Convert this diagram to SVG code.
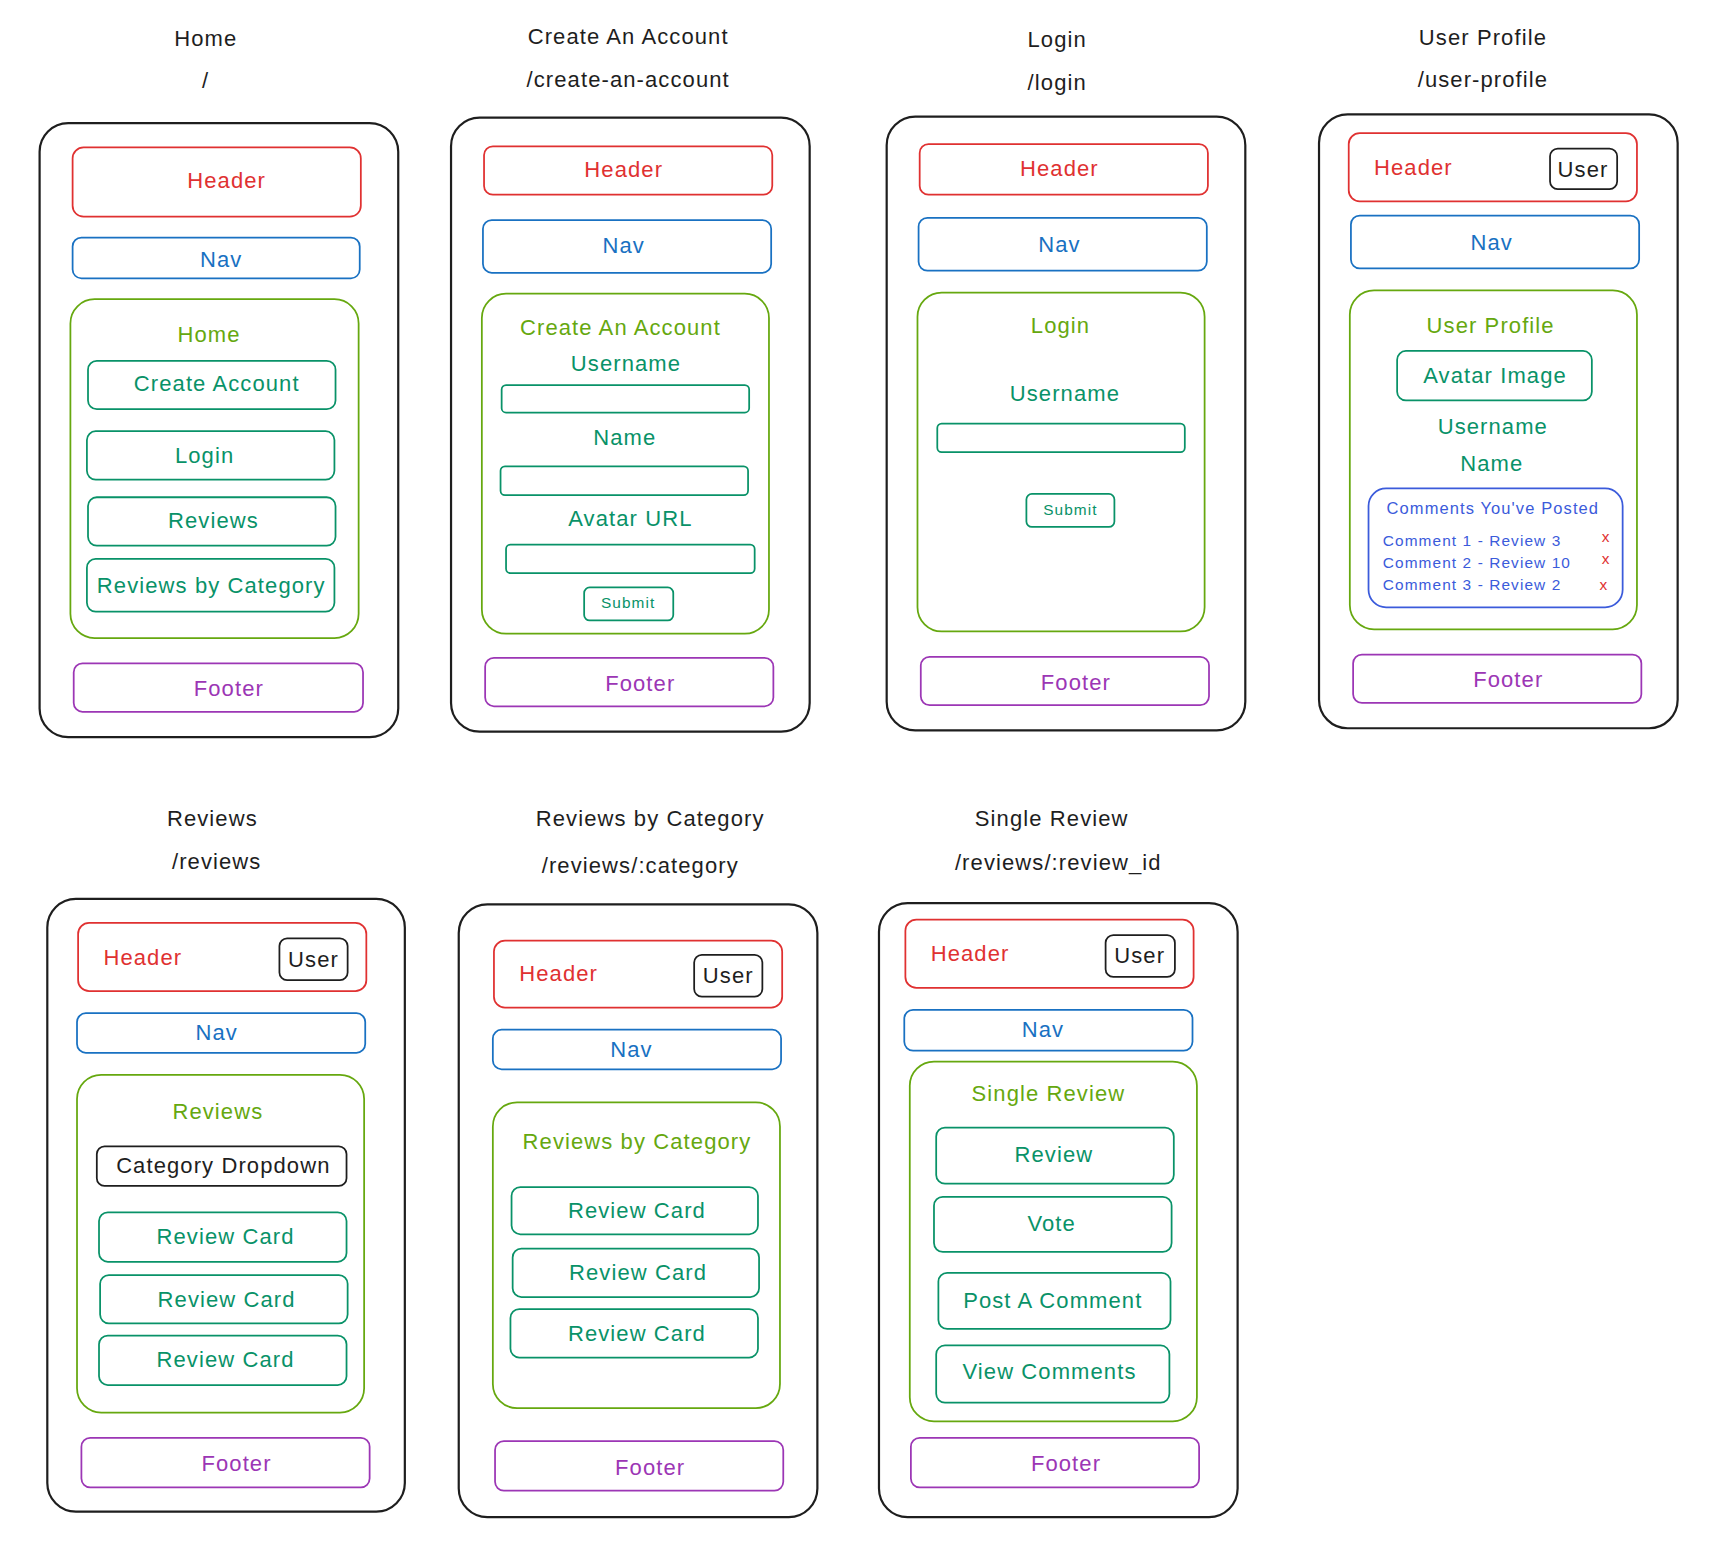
<svg xmlns="http://www.w3.org/2000/svg" width="1725" height="1546" viewBox="0 0 1725 1546">
<style>
text{font-family:"Liberation Sans",Arial,sans-serif;font-size:20px;text-anchor:middle;dominant-baseline:central;letter-spacing:1px}
rect{fill:none;stroke-width:1.6}
.frame{stroke:#1e1e1e;stroke-width:2}
.hd{stroke:#e03131}.hdt{fill:#e03131}
.nv{stroke:#1971c2}.nvt{fill:#1971c2}
.gr{stroke:#66a80f}.grt{fill:#66a80f}
.tl{stroke:#099268}.tlt{fill:#099268}
.pu{stroke:#9c36b5}.put{fill:#9c36b5}
.in{stroke:#3b5bdb}.int{fill:#3b5bdb}
.bk{stroke:#1e1e1e}.bkt{fill:#1e1e1e}
.st{text-anchor:start}
.sm{font-size:14px}
.xs{font-size:14px;fill:#e03131}
</style>
<rect width="1725" height="1546" fill="#ffffff" stroke="none"/>
<g transform="scale(1.1001)">

<g id="page-home">
<text class="bkt" x="187" y="35">Home</text>
<text class="bkt" x="187" y="73">/</text>
<rect class="frame" x="36" y="112" width="326" height="558" rx="26"/>
<g id="home-header"><rect class="hd" x="66" y="134" width="262" height="63" rx="10"/><text class="hdt" x="206" y="164">Header</text></g>
<g id="home-nav"><rect class="nv" x="66" y="216" width="261" height="37" rx="8"/><text class="nvt" x="201" y="236">Nav</text></g>
<g id="home-main"><rect class="gr" x="64" y="272" width="262" height="308" rx="22"/><text class="grt" x="190" y="304">Home</text></g>
<g id="home-create"><rect class="tl" x="80" y="328" width="225" height="44" rx="8"/><text class="tlt" x="197" y="349">Create Account</text></g>
<g id="home-login"><rect class="tl" x="79" y="392" width="225" height="44" rx="8"/><text class="tlt" x="186" y="414">Login</text></g>
<g id="home-reviews"><rect class="tl" x="80" y="452" width="225" height="44" rx="8"/><text class="tlt" x="194" y="473">Reviews</text></g>
<g id="home-bycat"><rect class="tl" x="79" y="508" width="225" height="48" rx="8"/><text class="tlt" x="192" y="532">Reviews by Category</text></g>
<g id="home-footer"><rect class="pu" x="67" y="603" width="263" height="44" rx="8"/><text class="put" x="208" y="626">Footer</text></g>
</g>

<g id="page-create">
<text class="bkt" x="571" y="33">Create An Account</text>
<text class="bkt" x="571" y="72">/create-an-account</text>
<rect class="frame" x="410" y="107" width="326" height="558" rx="26"/>
<g id="create-header"><rect class="hd" x="440" y="133" width="262" height="44" rx="8"/><text class="hdt" x="567" y="154">Header</text></g>
<g id="create-nav"><rect class="nv" x="439" y="200" width="262" height="48" rx="8"/><text class="nvt" x="567" y="223">Nav</text></g>
<g id="create-main"><rect class="gr" x="438" y="267" width="261" height="309" rx="22"/><text class="grt" x="564" y="298">Create An Account</text></g>
<g id="create-username"><text class="tlt" x="569" y="330">Username</text><rect class="tl" x="456" y="350" width="225" height="25" rx="4"/></g>
<g id="create-name"><text class="tlt" x="568" y="398">Name</text><rect class="tl" x="455" y="424" width="225" height="26" rx="4"/></g>
<g id="create-avatar"><text class="tlt" x="573" y="471">Avatar URL</text><rect class="tl" x="460" y="495" width="226" height="26" rx="4"/></g>
<g id="create-submit"><rect class="tl" x="531" y="534" width="81" height="30" rx="5"/><text class="tlt sm" x="571" y="548">Submit</text></g>
<g id="create-footer"><rect class="pu" x="441" y="598" width="262" height="44" rx="8"/><text class="put" x="582" y="621">Footer</text></g>
</g>

<g id="page-login">
<text class="bkt" x="961" y="36">Login</text>
<text class="bkt" x="961" y="75">/login</text>
<rect class="frame" x="806" y="106" width="326" height="558" rx="26"/>
<g id="login-header"><rect class="hd" x="836" y="131" width="262" height="46" rx="8"/><text class="hdt" x="963" y="153">Header</text></g>
<g id="login-nav"><rect class="nv" x="835" y="198" width="262" height="48" rx="8"/><text class="nvt" x="963" y="222">Nav</text></g>
<g id="login-main"><rect class="gr" x="834" y="266" width="261" height="308" rx="22"/><text class="grt" x="964" y="296">Login</text></g>
<g id="login-username"><text class="tlt" x="968" y="358">Username</text><rect class="tl" x="852" y="385" width="225" height="26" rx="4"/></g>
<g id="login-submit"><rect class="tl" x="933" y="449" width="80" height="30" rx="5"/><text class="tlt sm" x="973" y="463">Submit</text></g>
<g id="login-footer"><rect class="pu" x="837" y="597" width="262" height="44" rx="8"/><text class="put" x="978" y="620">Footer</text></g>
</g>

<g id="page-profile">
<text class="bkt" x="1348" y="34">User Profile</text>
<text class="bkt" x="1348" y="72">/user-profile</text>
<rect class="frame" x="1199" y="104" width="326" height="558" rx="26"/>
<g id="profile-header"><rect class="hd" x="1226" y="121" width="262" height="62" rx="10"/><text class="hdt st" x="1249" y="152">Header</text></g>
<g id="profile-user"><rect class="bk" x="1409" y="135" width="61" height="37" rx="7"/><text class="bkt" x="1439" y="154">User</text></g>
<g id="profile-nav"><rect class="nv" x="1228" y="196" width="262" height="48" rx="8"/><text class="nvt" x="1356" y="220">Nav</text></g>
<g id="profile-main"><rect class="gr" x="1227" y="264" width="261" height="308" rx="22"/><text class="grt" x="1355" y="296">User Profile</text></g>
<g id="profile-avatar"><rect class="tl" x="1270" y="319" width="177" height="45" rx="8"/><text class="tlt" x="1359" y="341">Avatar Image</text></g>
<text class="tlt" x="1357" y="388">Username</text>
<text class="tlt" x="1356" y="421">Name</text>
<g id="profile-comments">
<rect class="in" x="1244" y="444" width="231" height="108" rx="16"/>
<text class="int" x="1357" y="462" style="font-size:15px">Comments You've Posted</text>
<text class="int st sm" x="1257" y="491">Comment 1 - Review 3</text>
<text class="int st sm" x="1257" y="511">Comment 2 - Review 10</text>
<text class="int st sm" x="1257" y="531">Comment 3 - Review 2</text>
<text class="xs" x="1460" y="488">x</text>
<text class="xs" x="1460" y="508">x</text>
<text class="xs" x="1458" y="531">x</text>
</g>
<g id="profile-footer"><rect class="pu" x="1230" y="595" width="262" height="44" rx="8"/><text class="put" x="1371" y="618">Footer</text></g>
</g>

<g id="page-reviews">
<text class="bkt" x="193" y="744">Reviews</text>
<text class="bkt" x="197" y="783">/reviews</text>
<rect class="frame" x="43" y="817" width="325" height="557" rx="26"/>
<g id="reviews-header"><rect class="hd" x="71" y="839" width="262" height="62" rx="10"/><text class="hdt st" x="94" y="870">Header</text></g>
<g id="reviews-user"><rect class="bk" x="254" y="853" width="62" height="38" rx="7"/><text class="bkt" x="285" y="872">User</text></g>
<g id="reviews-nav"><rect class="nv" x="70" y="921" width="262" height="36" rx="8"/><text class="nvt" x="197" y="939">Nav</text></g>
<g id="reviews-main"><rect class="gr" x="70" y="977" width="261" height="307" rx="22"/><text class="grt" x="198" y="1010">Reviews</text></g>
<g id="reviews-dropdown"><rect class="bk" x="88" y="1042" width="227" height="36" rx="7"/><text class="bkt" x="203" y="1059">Category Dropdown</text></g>
<g id="reviews-card1"><rect class="tl" x="90" y="1102" width="225" height="45" rx="8"/><text class="tlt" x="205" y="1124">Review Card</text></g>
<g id="reviews-card2"><rect class="tl" x="91" y="1159" width="225" height="44" rx="8"/><text class="tlt" x="206" y="1181">Review Card</text></g>
<g id="reviews-card3"><rect class="tl" x="90" y="1214" width="225" height="45" rx="8"/><text class="tlt" x="205" y="1236">Review Card</text></g>
<g id="reviews-footer"><rect class="pu" x="74" y="1307" width="262" height="45" rx="8"/><text class="put" x="215" y="1330">Footer</text></g>
</g>

<g id="page-bycategory">
<text class="bkt" x="591" y="744">Reviews by Category</text>
<text class="bkt" x="582" y="787">/reviews/:category</text>
<rect class="frame" x="417" y="822" width="326" height="557" rx="26"/>
<g id="bycat-header"><rect class="hd" x="449" y="855" width="262" height="61" rx="10"/><text class="hdt st" x="472" y="885">Header</text></g>
<g id="bycat-user"><rect class="bk" x="631" y="868" width="62" height="38" rx="7"/><text class="bkt" x="662" y="887">User</text></g>
<g id="bycat-nav"><rect class="nv" x="448" y="936" width="262" height="36" rx="8"/><text class="nvt" x="574" y="954">Nav</text></g>
<g id="bycat-main"><rect class="gr" x="448" y="1002" width="261" height="278" rx="22"/><text class="grt" x="579" y="1038">Reviews by Category</text></g>
<g id="bycat-card1"><rect class="tl" x="465" y="1079" width="224" height="43" rx="8"/><text class="tlt" x="579" y="1100">Review Card</text></g>
<g id="bycat-card2"><rect class="tl" x="466" y="1135" width="224" height="44" rx="8"/><text class="tlt" x="580" y="1157">Review Card</text></g>
<g id="bycat-card3"><rect class="tl" x="464" y="1190" width="225" height="44" rx="8"/><text class="tlt" x="579" y="1212">Review Card</text></g>
<g id="bycat-footer"><rect class="pu" x="450" y="1310" width="262" height="45" rx="8"/><text class="put" x="591" y="1334">Footer</text></g>
</g>

<g id="page-single">
<text class="bkt" x="956" y="744">Single Review</text>
<text class="bkt" x="962" y="784">/reviews/:review_id</text>
<rect class="frame" x="799" y="821" width="326" height="558" rx="26"/>
<g id="single-header"><rect class="hd" x="823" y="836" width="262" height="62" rx="10"/><text class="hdt st" x="846" y="867">Header</text></g>
<g id="single-user"><rect class="bk" x="1005" y="850" width="63" height="38" rx="7"/><text class="bkt" x="1036" y="869">User</text></g>
<g id="single-nav"><rect class="nv" x="822" y="918" width="262" height="37" rx="8"/><text class="nvt" x="948" y="936">Nav</text></g>
<g id="single-main"><rect class="gr" x="827" y="965" width="261" height="327" rx="22"/><text class="grt" x="953" y="994">Single Review</text></g>
<g id="single-review"><rect class="tl" x="851" y="1025" width="216" height="51" rx="8"/><text class="tlt" x="958" y="1049">Review</text></g>
<g id="single-vote"><rect class="tl" x="849" y="1088" width="216" height="50" rx="8"/><text class="tlt" x="956" y="1112">Vote</text></g>
<g id="single-post"><rect class="tl" x="853" y="1157" width="211" height="51" rx="8"/><text class="tlt" x="957" y="1182">Post A Comment</text></g>
<g id="single-view"><rect class="tl" x="851" y="1223" width="212" height="52" rx="8"/><text class="tlt" x="954" y="1247">View Comments</text></g>
<g id="single-footer"><rect class="pu" x="828" y="1307" width="262" height="45" rx="8"/><text class="put" x="969" y="1330">Footer</text></g>
</g>

<g id="connectors"/>
</g>
</svg>
